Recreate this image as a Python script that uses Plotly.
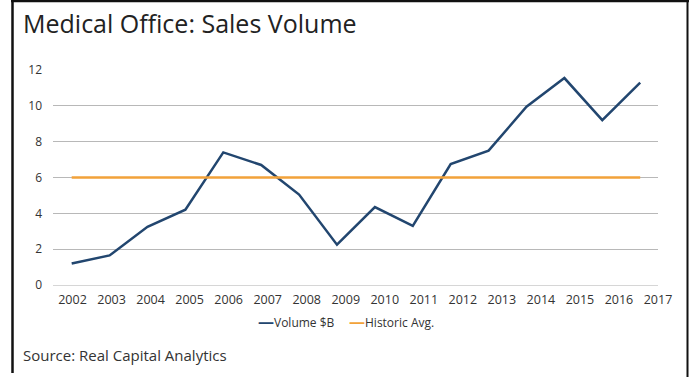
import plotly.graph_objects as go

# ---- data ----
years = [2002, 2003, 2004, 2005, 2006, 2007, 2008, 2009, 2010, 2011, 2012, 2013, 2014, 2015, 2016, 2017]
volume = [1.2, 1.65, 3.25, 4.2, 7.4, 6.7, 5.05, 2.25, 4.35, 3.3, 6.75, 7.5, 9.95, 11.55, 9.2, 11.3]
historic_avg = [6.0] * len(years)
tick_labels = [str(y) for y in years]
y_ticks = [0, 2, 4, 6, 8, 10, 12]

W, H = 689, 377
L, R, T, B = 53, 31, 70, 92
pw, ph = W - L - R, H - T - B


def px(x):
    return (x - L) / pw


def py(y):
    return (H - B - y) / ph


blue = "#22466f"
orange = "#f2a23a"
font = "Open Sans"

fig = go.Figure()
# invisible trace that anchors the tick-label axis
fig.add_trace(go.Scatter(x=years, y=[None] * len(years), mode="lines", hoverinfo="skip",
                         showlegend=False, xaxis="x"))
fig.add_trace(go.Scatter(x=years, y=volume, mode="lines", name="Volume $B",
                         line=dict(color=blue, width=2.5), xaxis="x2", showlegend=False))
fig.add_trace(go.Scatter(x=years, y=historic_avg, mode="lines", name="Historic Avg.",
                         line=dict(color=orange, width=2.5), xaxis="x2", showlegend=False))

fig.update_layout(
    width=W, height=H,
    margin=dict(l=L, r=R, t=T, b=B),
    paper_bgcolor="white", plot_bgcolor="white",
    font=dict(family=font, color="#333333", size=13),
    xaxis=dict(range=[2001.5, 2017.0], tickvals=years, ticktext=tick_labels,
               showgrid=False, zeroline=False, showline=False, ticks="",
               tickfont=dict(size=12.5, color="#333333"), ticklabelstandoff=5, fixedrange=True),
    xaxis2=dict(range=[2001.507, 2017.47], overlaying="x", visible=False, fixedrange=True),
    yaxis=dict(range=[0, 12], tickvals=y_ticks, showgrid=True, gridcolor="#b8b8b8", gridwidth=1,
               zeroline=True, zerolinecolor="#d6d6d6", zerolinewidth=1,
               showline=False, ticks="", tickfont=dict(size=12, color="#333333"),
               ticklabelstandoff=10, fixedrange=True),
    showlegend=False,
)

annotations = [
    dict(text="Medical Office: Sales Volume", x=px(21), y=py(23), xref="paper", yref="paper",
         xanchor="left", yanchor="middle", showarrow=False,
         font=dict(family=font, size=25, color="#222222")),
    dict(text="Source: Real Capital Analytics", x=px(21), y=py(355), xref="paper", yref="paper",
         xanchor="left", yanchor="middle", showarrow=False,
         font=dict(family=font, size=15, color="#333333")),
    dict(text=f"<span style='color:{blue};font-size:16px'><b>—</b></span>Volume $B", x=px(256), y=py(321),
         xref="paper", yref="paper", xanchor="left", yanchor="middle", showarrow=False,
         font=dict(family=font, size=12, color="#333333")),
    dict(text=f"<span style='color:{orange};font-size:16px'><b>—</b></span>Historic Avg.", x=px(347), y=py(321),
         xref="paper", yref="paper", xanchor="left", yanchor="middle", showarrow=False,
         font=dict(family=font, size=12, color="#333333")),
]
fig.update_layout(annotations=annotations)

shapes = [
    dict(type="line", xref="paper", yref="paper", x0=px(12.5), x1=px(12.5), y0=py(0), y1=py(373),
         line=dict(color="#111111", width=2.5)),
    dict(type="line", xref="paper", yref="paper", x0=px(11), x1=px(689), y0=py(1), y1=py(1),
         line=dict(color="#111111", width=2.5)),
    dict(type="line", xref="paper", yref="paper", x0=px(687.5), x1=px(687.5), y0=py(0), y1=py(377),
         line=dict(color="#111111", width=2)),
]
fig.update_layout(shapes=shapes)

fig.write_html("out.html")
